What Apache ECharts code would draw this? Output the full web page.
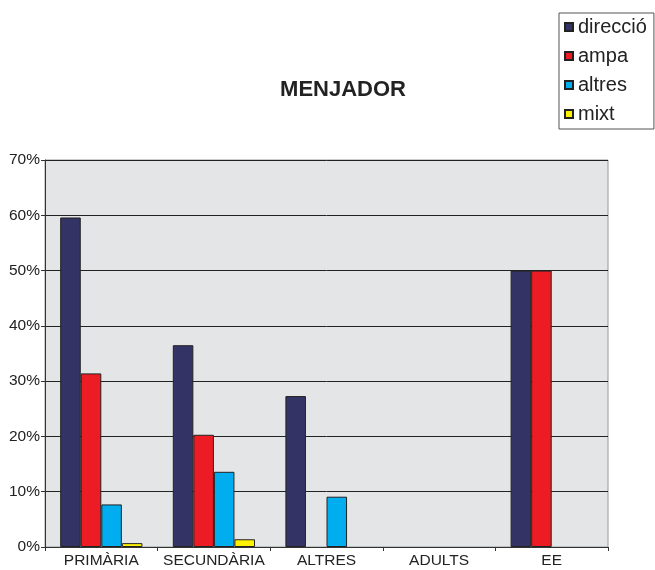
<!DOCTYPE html>
<html>
<head>
<meta charset="utf-8">
<script src="https://cdn.jsdelivr.net/npm/echarts@6/dist/echarts.min.js"></script>
<style>
html,body{margin:0;padding:0;background:#fff;}
#chart{width:655px;height:570px;}
</style>
</head>
<body>
<div id="chart"></div>
<script>
// menjador per tipus de centre
var categories = ['PRIMÀRIA', 'SECUNDÀRIA', 'ALTRES', 'ADULTS', 'EE'];
var direccio = [59.6, 36.5, 27.3, 0, 50];
var ampa = [31.4, 20.3, 0, 0, 50];
var altres = [7.7, 13.6, 9.1, 0, 0];
var mixt = [0.7, 1.4, 0, 0, 0];
var yTicks = [0, 10, 20, 30, 40, 50, 60, 70];

var chart = echarts.init(document.getElementById('chart'));

function barSerie(name, data, color) {
    return {
        name: name,
        type: 'bar',
        // zero bars are not drawn in the original
        data: data.map(function (v) { return v === 0 ? '-' : v; }),
        barGap: '0%',
        barCategoryGap: '27%',
        itemStyle: {
            color: color,
            borderColor: '#222',
            borderWidth: 1
        }
    };
}

var option = {
    animation: false,
    textStyle: { fontFamily: 'Liberation Sans, Arial, sans-serif' },
    title: {
        text: 'MENJADOR',
        left: 338,
        top: 74,
        textAlign: 'center',
        textStyle: { fontSize: 22, fontWeight: 'bold', color: '#222' }
    },
    legend: {
        orient: 'vertical',
        left: 559,
        top: 13,
        padding: [4, 7, 5, 5],
        itemGap: 9,
        itemWidth: 8,
        itemHeight: 8,
        icon: 'rect',
        borderColor: '#555',
        borderWidth: 1,
        borderRadius: 0,
        textStyle: { fontSize: 20, color: '#222' },
        data: ['direcció', 'ampa', 'altres', 'mixt']
    },
    grid: {
        left: 45,
        right: 47,
        top: 160,
        bottom: 23,
        show: true,
        backgroundColor: '#e4e5e7',
        borderColor: '#999',
        borderWidth: 1
    },
    xAxis: {
        type: 'category',
        data: categories,
        axisLine: { lineStyle: { color: '#333', width: 1 } },
        axisTick: { show: true, length: 4, lineStyle: { color: '#333' } },
        axisLabel: { interval: 0, hideOverlap: false, fontSize: 15.5, color: '#222', margin: 6 }
    },
    yAxis: {
        type: 'value',
        min: yTicks[0],
        max: yTicks[yTicks.length - 1],
        interval: 10,
        axisLine: { show: true, lineStyle: { color: '#333' } },
        axisTick: { show: true, length: 4, lineStyle: { color: '#333' } },
        axisLabel: { fontSize: 15.5, color: '#222', margin: 5, formatter: '{value}%' },
        splitLine: { lineStyle: { color: '#222', width: 1 } }
    },
    series: [
        barSerie('direcció', direccio, '#333366'),
        barSerie('ampa', ampa, '#ed1c24'),
        barSerie('altres', altres, '#00aeef'),
        barSerie('mixt', mixt, '#fff200')
    ]
};

chart.setOption(option);
</script>
</body>
</html>
